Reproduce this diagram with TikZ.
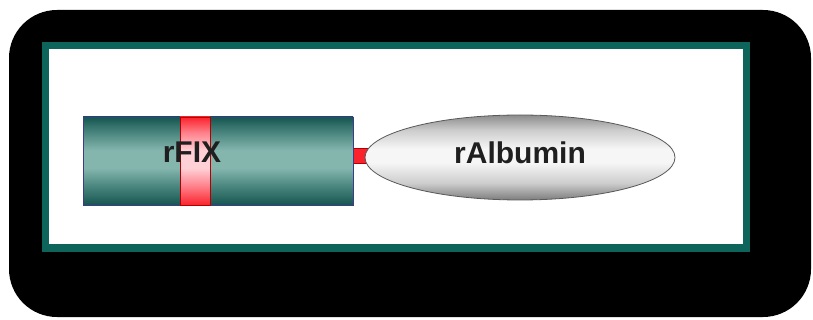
\documentclass[tikz,border=0pt]{standalone}
\usepackage{fontspec}
\setmainfont{Liberation Sans}
\usetikzlibrary{shapes.geometric}
\definecolor{tealdark}{RGB}{22,86,80}
\definecolor{tealmid}{RGB}{75,135,127}
\definecolor{teallight}{RGB}{132,182,174}
\definecolor{framecol}{RGB}{12,100,90}
\definecolor{bandred}{RGB}{250,35,45}
\definecolor{bandmid}{RGB}{255,130,140}
\definecolor{bandpink}{RGB}{255,208,214}
\definecolor{navyedge}{RGB}{60,60,140}
\definecolor{gtop}{RGB}{140,140,140}
\definecolor{gmid}{RGB}{205,205,205}
\definecolor{glight}{RGB}{246,246,246}
\definecolor{gbot}{RGB}{125,125,125}
\pgfdeclareverticalshading{tealsh}{100bp}{color(0bp)=(tealdark); color(25bp)=(tealdark); color(36bp)=(tealmid); color(46bp)=(teallight); color(56bp)=(teallight); color(66bp)=(tealmid); color(75bp)=(tealdark); color(100bp)=(tealdark)}
\pgfdeclareverticalshading{bandsh}{100bp}{color(0bp)=(bandred); color(25bp)=(bandred); color(36bp)=(bandmid); color(46bp)=(bandpink); color(56bp)=(bandpink); color(66bp)=(bandmid); color(75bp)=(bandred); color(100bp)=(bandred)}
\pgfdeclareverticalshading{graysh}{100bp}{color(0bp)=(gbot); color(25bp)=(gbot); color(35bp)=(gmid); color(47bp)=(glight); color(55bp)=(glight); color(66bp)=(gmid); color(75bp)=(gtop); color(100bp)=(gtop)}
\tikzset{
  lbl/.style={font=\fontsize{30}{32}\selectfont\bfseries, text=black!88, inner sep=0pt},
  fixbox/.style={rectangle, draw=navyedge, line width=0.8pt, minimum width=270pt, minimum height=88pt,
     shading=tealsh, inner sep=0pt},
  bandbox/.style={rectangle, draw=red!70!black, line width=0.6pt, minimum width=30pt, minimum height=88pt,
     shading=bandsh, inner sep=0pt},
  linkbox/.style={rectangle, fill=bandred, draw=red!70!black, line width=0.5pt, minimum width=16pt, minimum height=15pt, inner sep=0pt},
  albell/.style={ellipse, draw=black!65, line width=0.8pt, minimum width=310pt, minimum height=85pt,
     shading=graysh, inner sep=0pt},
}
\begin{document}
\begin{tikzpicture}[x=1pt,y=-1pt]
\useasboundingbox (0,0) rectangle (813,320);
\fill[white] (0,0) rectangle (813,320);
% black backdrop
\fill[black, rounded corners=48pt] (9,10) rectangle (811,317);
% white panel with teal frame
\draw[framecol, line width=7pt, fill=white] (45.5,45.5) rectangle (746.5,248);
% link between the parts
\node[linkbox] (link) at (361,155.5) {};
% rFIX box
\node[fixbox] (fix) at (218,161) {};
\node[bandbox] (band) at (195,161) {};
\node[lbl] (fixlbl) at (192,152.5) {rFIX};
% albumin
\node[albell] (alb) at (520,157.5) {};
\node[lbl] (alblbl) at (520,152.5) {rAlbumin};
\end{tikzpicture}
\end{document}
